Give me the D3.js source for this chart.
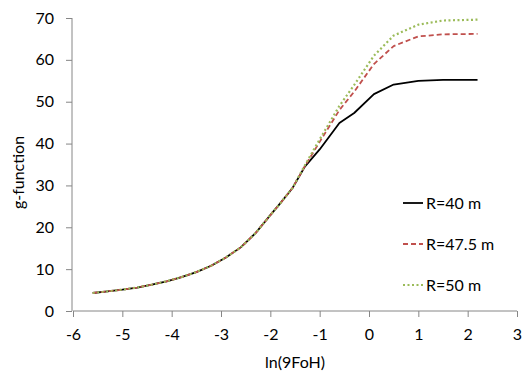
<!DOCTYPE html>
<html>
<head>
<meta charset="utf-8">
<script src="https://cdn.jsdelivr.net/npm/d3@7"></script>
<style>
  body { margin: 0; background: #fff; }
  svg text { font-family: Lato, "Liberation Sans", sans-serif; fill: #000; }
</style>
</head>
<body>
<svg id="chart" width="523" height="377"></svg>
<script>
// data
const xVals = [-5.6, -5.3, -5.0, -4.7, -4.4, -4.1, -3.8, -3.5, -3.2, -2.9, -2.6, -2.3, -2.0, -1.8, -1.55, -1.3, -1.0, -0.6, -0.3, 0.1, 0.5, 1.0, 1.5, 2.2];
const g40   = [4.3, 4.7, 5.1, 5.6, 6.3, 7.1, 8.1, 9.3, 10.8, 12.8, 15.2, 18.6, 22.9, 25.7, 29.4, 34.5, 38.6, 44.9, 47.3, 51.8, 54.1, 55.0, 55.2, 55.2];
const g475  = [4.3, 4.7, 5.1, 5.6, 6.3, 7.1, 8.1, 9.3, 10.8, 12.8, 15.2, 18.6, 22.9, 25.7, 29.4, 34.6, 40.4, 48.0, 52.4, 59.0, 63.3, 65.6, 66.1, 66.2];
const g50   = [4.3, 4.7, 5.1, 5.6, 6.3, 7.1, 8.1, 9.3, 10.8, 12.8, 15.2, 18.6, 22.9, 25.7, 29.4, 34.8, 41.0, 49.0, 54.0, 61.0, 65.8, 68.4, 69.4, 69.6];
const seriesNames = ["R=40 m", "R=47.5 m", "R=50 m"];
const xTicks = [-6, -5, -4, -3, -2, -1, 0, 1, 2, 3];
const yTicks = [0, 10, 20, 30, 40, 50, 60, 70];

const svg = d3.select("#chart");
const mLeft = 73, mRight = 517, mTop = 18, mBottom = 311;
const fs = 16;

const x = d3.scaleLinear().domain([-6, 3]).range([mLeft, mRight]);
const y = d3.scaleLinear().domain([0, 70]).range([mBottom, mTop]);

const axisCol = "#868686";

// x axis
const gx = svg.append("g")
  .attr("transform", `translate(0,${mBottom})`)
  .call(d3.axisBottom(x).tickValues(xTicks).tickSize(6).tickPadding(12).tickFormat(d3.format("d")));
gx.select(".domain").attr("stroke", axisCol).attr("d", `M${mLeft},0H${mRight}`);
gx.selectAll(".tick line").attr("stroke", axisCol);
gx.selectAll("text").attr("font-size", fs).attr("fill", "#000")
  .text(d => d < 0 ? "-" + Math.abs(d) : d);

// y axis
const gy = svg.append("g")
  .attr("transform", `translate(${mLeft - 1},0)`)
  .call(d3.axisLeft(y).tickValues(yTicks).tickSize(6).tickPadding(12));
gy.select(".domain").attr("stroke", axisCol).attr("d", `M0,${mTop}V${mBottom}`);
gy.selectAll(".tick line").attr("stroke", axisCol);
gy.selectAll("text").attr("font-size", fs).attr("fill", "#000");

// axis titles
svg.append("text")
  .attr("x", (mLeft + mRight) / 2)
  .attr("y", 368)
  .attr("text-anchor", "middle")
  .attr("font-size", fs)
  .text("ln(9FoH)");

svg.append("text")
  .attr("transform", `translate(24,${(mTop + mBottom) / 2 + 8}) rotate(-90)`)
  .attr("text-anchor", "middle")
  .attr("font-size", fs)
  .text("g-function");

// lines
const styles = [
  { col: "#000000", dash: null, w: 1.8 },
  { col: "#C0504D", dash: "5,3", w: 1.8 },
  { col: "#9BBB59", dash: "2,2.5", w: 2.2 }
];
const allSeries = [g40, g475, g50];

const line = d3.line()
  .x((d, i) => x(xVals[i]))
  .y(d => y(d));

allSeries.forEach((s, k) => {
  svg.append("path")
    .datum(s)
    .attr("fill", "none")
    .attr("stroke", styles[k].col)
    .attr("stroke-width", styles[k].w)
    .attr("stroke-dasharray", styles[k].dash)
    .attr("stroke-linejoin", "round")
    .attr("d", line);
});

// legend
const legY = [203, 244, 285];
seriesNames.forEach((name, k) => {
  svg.append("line")
    .attr("x1", 403).attr("x2", 423)
    .attr("y1", legY[k]).attr("y2", legY[k])
    .attr("stroke", styles[k].col)
    .attr("stroke-width", styles[k].w)
    .attr("stroke-dasharray", styles[k].dash);
  svg.append("text")
    .attr("x", 426)
    .attr("y", legY[k] + 6)
    .attr("font-size", fs)
    .text(name);
});
</script>
</body>
</html>
